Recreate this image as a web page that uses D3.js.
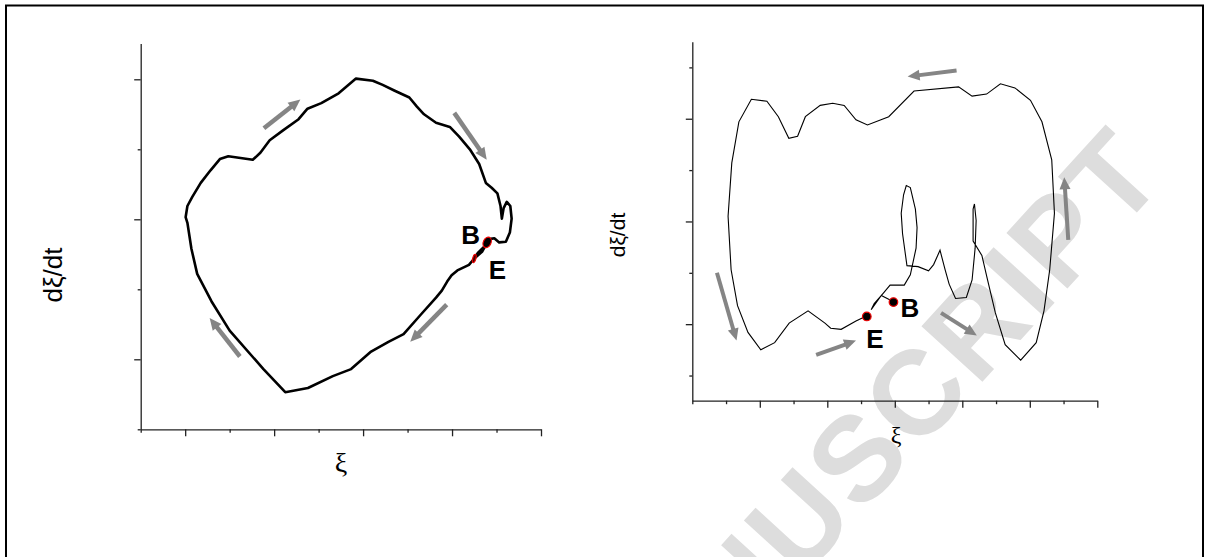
<!DOCTYPE html>
<html>
<head>
<meta charset="utf-8">
<script src="https://cdnjs.cloudflare.com/ajax/libs/d3/7.8.5/d3.min.js"></script>
<style>
  body { margin: 0; background: #fff; }
  svg { display: block; }
  text { font-family: "Liberation Sans", Arial, sans-serif; }
</style>
</head>
<body>
<svg id="chart" width="1208" height="557"></svg>
<script>
// left panel: one cycle, xi and dxi/dt (in minor tick units)
let leftXi = [7.79,7.68,7.50,7.38,7.12,6.99,6.89,6.77,6.64,6.30,
  5.91,5.57,5.18,4.73,4.32,3.76,3.25,2.76,2.00,1.59,
  1.27,1.14,1.05,1.01,1.05,1.16,1.35,1.57,1.78,1.97,
  2.52,2.69,2.90,3.20,3.55,3.75,4.06,4.45,4.84,5.22,
  5.44,5.70,6.04,6.21,6.37,6.64,6.95,7.16,7.40,7.61,
  7.76,7.89,8.02,8.09,8.12,8.16,8.23,8.31,8.34,8.30,
  8.21,8.06,7.95,7.87,7.74,7.58,7.50]
let leftRate = [2.67,2.54,2.44,2.35,2.27,2.20,2.11,1.98,1.88,1.64,
  1.36,1.25,1.11,0.86,0.76,0.59,0.53,0.86,1.41,1.83,
  2.22,2.58,2.95,3.03,3.19,3.32,3.52,3.70,3.86,3.90,
  3.85,3.95,4.13,4.27,4.43,4.58,4.66,4.80,5.01,4.98,
  4.92,4.84,4.74,4.61,4.50,4.38,4.32,4.18,4.00,3.79,
  3.52,3.45,3.37,3.19,3.01,3.16,3.25,3.19,3.01,2.81,
  2.68,2.67,2.73,2.72,2.62,2.52,2.44]

// right panel
let rightXi = [5.95,5.60,5.30,5.39,5.63,5.86,6.28,6.46,6.63,6.66,
  6.61,6.46,6.34,6.26,6.19,6.23,6.36,6.69,7.00,7.15,
  7.34,7.49,7.61,7.80,8.12,8.29,8.38,8.41,8.36,8.32,
  8.32,8.58,8.75,8.98,9.27,9.73,10.19,10.42,10.59,10.73,
  10.65,10.36,10.02,9.56,9.13,8.72,8.29,7.89,6.57,5.82,
  5.19,4.85,4.50,4.16,3.79,3.35,3.12,2.86,2.55,2.21,
  1.75,1.38,1.17,1.06,1.15,1.34,1.65,2.03,2.44,2.87,
  3.43,3.93,4.10,4.41,4.85,5.16]
let rightRate = [-0.78,-0.72,-0.86,-0.80,-0.71,-0.62,-0.62,-0.52,-0.26,-0.06,
  0.12,0.33,0.35,0.26,0.08,-0.12,-0.43,-0.44,-0.48,-0.42,
  -0.28,-0.47,-0.61,-0.75,-0.74,-0.57,-0.26,0.01,0.17,0.12,
  -0.19,-0.33,-0.57,-0.89,-1.20,-1.35,-1.18,-0.87,-0.47,0.08,
  0.60,0.97,1.18,1.30,1.34,1.24,1.22,1.31,1.27,1.02,
  0.94,0.99,1.13,1.15,1.13,1.02,0.83,0.81,1.02,1.17,
  1.19,0.97,0.57,0.05,-0.47,-0.82,-1.08,-1.25,-1.18,-0.99,
  -0.87,-0.99,-1.04,-1.05,-0.97,-0.92]

// begin / end points
let leftMarks = [["B", 7.79, 2.67], ["E", 7.50, 2.44]]
let rightMarks = [["B", 5.96, -0.785], ["E", 5.17, -0.925]]

// direction arrows: [xi0, rate0, xi1, rate1]
let leftArrows = [[2.77,4.30,3.59,4.71],[7.05,4.52,7.78,3.85],[6.88,1.78,6.06,1.25],[2.23,1.04,1.55,1.59]]
let rightArrows = [[7.83,1.47,6.38,1.41],[11.14,-0.18,11.02,0.43],[0.73,-0.50,1.31,-1.16],[3.67,-1.30,4.85,-1.16],[7.37,-0.89,8.43,-1.11]]

let leftXMajor = [1,3,5,7,9]
let leftXMinor = [0,2,4,6,8]
let leftYMajor = [1,3,5]
let leftYMinor = [0,2,4]
let rightXMajor = [2,4,6,8,10,12]
let rightXMinor = [0,1,3,5,7,9,11]
let rightYMajor = [-1,0,1]
let rightYMinor = [-1.5,-0.5,0.5,1.5]

let svg = d3.select("#chart")

// watermark behind everything
let wm = svg.append("g").attr("transform", "translate(1112,176) rotate(-47.6)")
wm.append("text")
  .attr("x", 38).attr("y", 43)
  .attr("text-anchor", "end")
  .style("font-size", "120px")
  .style("font-weight", "bold")
  .style("letter-spacing", "3px")
  .attr("fill", "#dddddd")
  .text("MANUSCRIPT")

// frame
svg.append("path")
  .attr("d", "M6,560V5.5H1203V560")
  .attr("fill", "none").attr("stroke", "#000").attr("stroke-width", 2)

function drawAxes(x, y, xMaj, xMin, yMaj, yMin) {
  let y0 = y.range()[0]
  let x0 = x.range()[0]
  let gx = svg.append("g").attr("transform", `translate(0,${y0})`)
  gx.call(d3.axisBottom(x).tickValues(xMaj).tickSize(7).tickSizeOuter(0).tickFormat(""))
  let gx2 = svg.append("g").attr("transform", `translate(0,${y0})`)
  gx2.call(d3.axisBottom(x).tickValues(xMin).tickSize(3.5).tickSizeOuter(0).tickFormat(""))
  gx2.select(".domain").remove()

  let gy = svg.append("g").attr("transform", `translate(${x0},0)`)
  gy.call(d3.axisLeft(y).tickValues(yMaj).tickSize(6.5).tickSizeOuter(0).tickFormat(""))
  let gy2 = svg.append("g").attr("transform", `translate(${x0},0)`)
  gy2.call(d3.axisLeft(y).tickValues(yMin).tickSize(3).tickSizeOuter(0).tickFormat(""))
  gy2.select(".domain").remove()

  svg.selectAll(".domain, .tick line")
    .attr("stroke", "#222")
    .attr("stroke-width", 1.3)
}

function drawArrows(list, x, y, w) {
  list.forEach(a => {
    let p0 = [x(a[0]), y(a[1])]
    let p1 = [x(a[2]), y(a[3])]
    let dx = p1[0] - p0[0], dy = p1[1] - p0[1]
    let len = Math.sqrt(dx * dx + dy * dy)
    let ux = dx / len, uy = dy / len
    let hl = 12, hw = 5.5
    let b = [p1[0] - ux * hl, p1[1] - uy * hl]
    svg.append("line")
      .attr("x1", p0[0]).attr("y1", p0[1])
      .attr("x2", b[0] + ux * 2).attr("y2", b[1] + uy * 2)
      .attr("stroke", "#858585").attr("stroke-width", w)
    svg.append("path")
      .attr("d", `M${p1[0]},${p1[1]}L${b[0] - uy * hw},${b[1] + ux * hw}L${b[0] + uy * hw},${b[1] - ux * hw}Z`)
      .attr("fill", "#858585")
  })
}

// ---- left panel
let xL = d3.scaleLinear().domain([0, 9]).range([140.7, 541])
let yL = d3.scaleLinear().domain([0, 5.51]).range([429.3, 43.6])
drawAxes(xL, yL, leftXMajor, leftXMinor, leftYMajor, leftYMinor)

let lineL = d3.line().x(d => xL(d[0])).y(d => yL(d[1]))
svg.append("path")
  .datum(leftXi.map((v, i) => [v, leftRate[i]]))
  .attr("d", lineL)
  .attr("fill", "none").attr("stroke", "#000").attr("stroke-width", 2.6)
  .attr("stroke-linejoin", "round")

drawArrows(leftArrows, xL, yL, 4.5)

svg.append("ellipse")
  .attr("cx", xL(leftMarks[0][1])).attr("cy", yL(leftMarks[0][2]))
  .attr("rx", 3.8).attr("ry", 5.5)
  .attr("transform", `rotate(25,${xL(leftMarks[0][1])},${yL(leftMarks[0][2])})`)
  .attr("fill", "#000").attr("stroke", "#e00").attr("stroke-width", 1.2)
svg.append("ellipse")
  .attr("cx", xL(leftMarks[1][1])).attr("cy", yL(leftMarks[1][2]))
  .attr("rx", 1.6).attr("ry", 4.2)
  .attr("transform", `rotate(15,${xL(leftMarks[1][1])},${yL(leftMarks[1][2])})`)
  .attr("fill", "#400").attr("stroke", "#e00").attr("stroke-width", 1.2)

svg.append("text").attr("x", xL(leftMarks[0][1]) - 26).attr("y", yL(leftMarks[0][2]) + 1.5)
  .style("font-size", "26px").style("font-weight", "bold").text("B")
svg.append("text").attr("x", xL(leftMarks[1][1]) + 14.5).attr("y", yL(leftMarks[1][2]) + 20)
  .style("font-size", "26px").style("font-weight", "bold").text("E")

svg.append("text")
  .attr("transform", "translate(62,275) rotate(-90)")
  .attr("text-anchor", "middle")
  .style("font-size", "26px")
  .text("dξ/dt")
svg.append("text")
  .attr("x", 341).attr("y", 472)
  .attr("text-anchor", "middle")
  .style("font-family", "'Liberation Serif', serif")
  .style("font-size", "28px")
  .text("ξ")

// ---- right panel
let xR = d3.scaleLinear().domain([0, 12]).range([692.3, 1097.3])
let yR = d3.scaleLinear().domain([-1.745, 1.75]).range([400.7, 41.7])
drawAxes(xR, yR, rightXMajor, rightXMinor, rightYMajor, rightYMinor)

let lineR = d3.line().x(d => xR(d[0])).y(d => yR(d[1]))
svg.append("path")
  .datum(rightXi.map((v, i) => [v, rightRate[i]]))
  .attr("d", lineR)
  .attr("fill", "none").attr("stroke", "#000").attr("stroke-width", 1.1)

drawArrows(rightArrows, xR, yR, 4)

svg.selectAll("circle.mk")
  .data(rightMarks)
  .enter()
  .append("circle")
  .attr("class", "mk")
  .attr("cx", d => xR(d[1]))
  .attr("cy", d => yR(d[2]))
  .attr("r", 4.3)
  .attr("fill", "#000").attr("stroke", "#e00").attr("stroke-width", 1.2)

svg.append("text").attr("x", xR(rightMarks[0][1]) + 7).attr("y", yR(rightMarks[0][2]) + 15)
  .style("font-size", "26px").style("font-weight", "bold").text("B")
svg.append("text").attr("x", xR(rightMarks[1][1]) - 0.5).attr("y", yR(rightMarks[1][2]) + 32)
  .style("font-size", "26px").style("font-weight", "bold").text("E")

svg.append("text")
  .attr("transform", "translate(625,235) rotate(-90)")
  .attr("text-anchor", "middle")
  .style("font-size", "21px")
  .text("dξ/dt")
svg.append("text")
  .attr("x", 896).attr("y", 443)
  .attr("text-anchor", "middle")
  .style("font-family", "'Liberation Serif', serif")
  .style("font-size", "24px")
  .text("ξ")
</script>
</body>
</html>
